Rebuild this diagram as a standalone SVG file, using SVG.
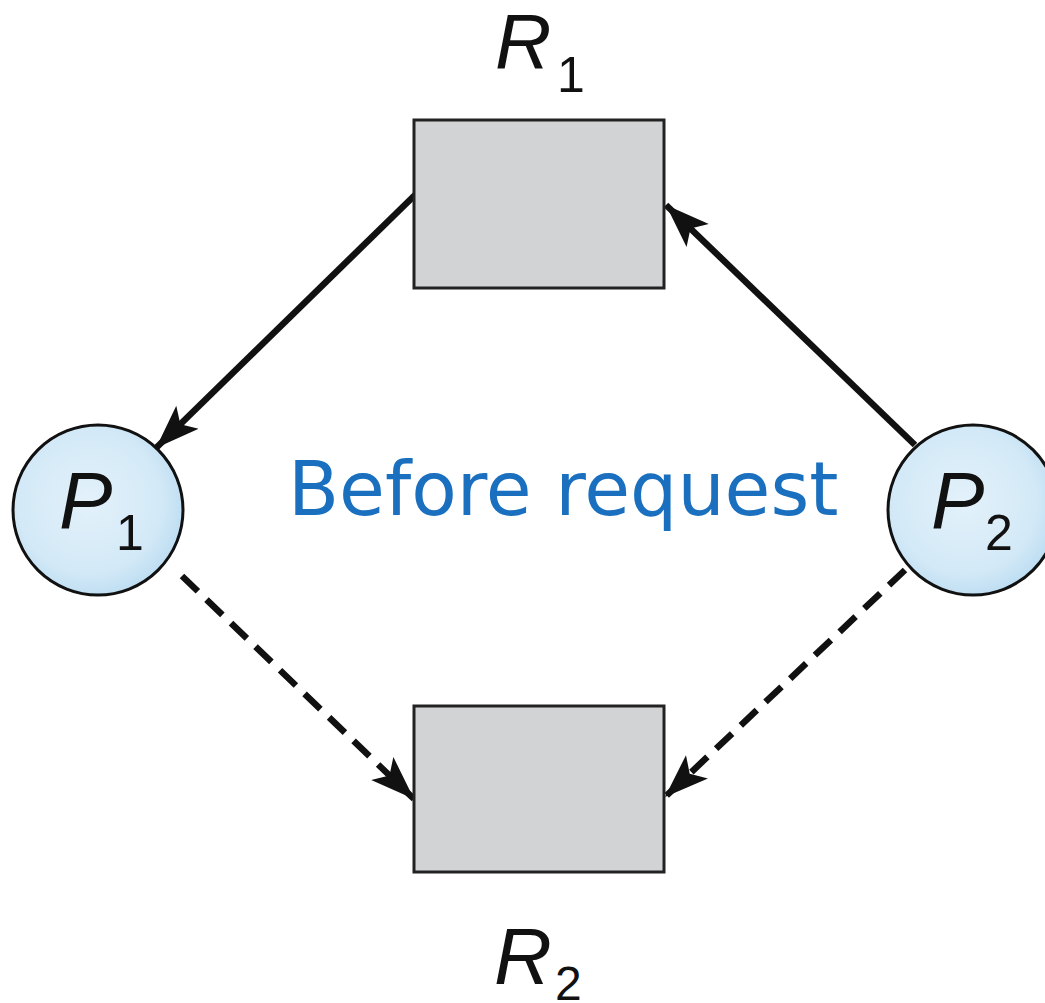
<svg xmlns="http://www.w3.org/2000/svg" width="1045" height="1003" viewBox="0 0 1045 1003">
<style>
.res{fill:#d2d3d5;stroke:#222;stroke-width:3}
.proc{fill:url(#pg);stroke:#111;stroke-width:3}
.lbl{font-family:"Liberation Sans",Arial,sans-serif;font-style:italic;fill:#111}
.sub{font-family:"Liberation Sans",Arial,sans-serif;fill:#111}
.edge{stroke:#111;stroke-width:6.5;fill:none}
.dash{stroke-dasharray:22 12}
</style>
<defs>
<radialGradient id="pg" cx="0.45" cy="0.45" r="0.6">
<stop offset="0" stop-color="#e3f1fa"/>
<stop offset="0.7" stop-color="#d3e9f7"/>
<stop offset="1" stop-color="#b9dbf1"/>
</radialGradient>
<marker id="ah" markerUnits="userSpaceOnUse" markerWidth="48" markerHeight="36" refX="44" refY="16" orient="auto" viewBox="0 0 48 32">
<path d="M0,0 L44,16 L0,32 L10,16 Z" fill="#111"/>
</marker>
</defs>
<rect width="1045" height="1003" fill="#fff"/>
<g id="connectors">
<line class="edge" x1="416" y1="194" x2="156" y2="448" marker-end="url(#ah)"/>
<line class="edge" x1="915" y1="445" x2="666" y2="205" marker-end="url(#ah)"/>
<line class="edge dash" x1="182" y1="576" x2="414" y2="799" marker-end="url(#ah)"/>
<line class="edge dash" x1="905" y1="570" x2="665" y2="797" marker-end="url(#ah)"/>
</g>
<g id="R1">
<rect class="res" x="414" y="120" width="250" height="168"/>
<text class="lbl" x="495" y="68" font-size="78">R</text>
<text class="sub" x="557" y="92" font-size="50">1</text>
</g>
<g id="R2">
<rect class="res" x="414" y="706" width="250" height="166"/>
<text class="lbl" x="494" y="984" font-size="80">R</text>
<text class="sub" x="555" y="1000" font-size="48">2</text>
</g>
<g id="P1">
<circle class="proc" cx="98" cy="510" r="85"/>
<text class="lbl" x="59" y="528" font-size="80">P</text>
<text class="sub" x="116" y="550" font-size="50">1</text>
</g>
<g id="P2">
<circle class="proc" cx="973" cy="510" r="85"/>
<text class="lbl" x="931" y="528" font-size="80">P</text>
<text class="sub" x="985" y="550" font-size="50">2</text>
</g>
<g id="caption">
<text x="288" y="515" font-family="'DejaVu Sans',Verdana,sans-serif" font-size="74.5" fill="#1a70bf">Before request</text>
</g>
</svg>
